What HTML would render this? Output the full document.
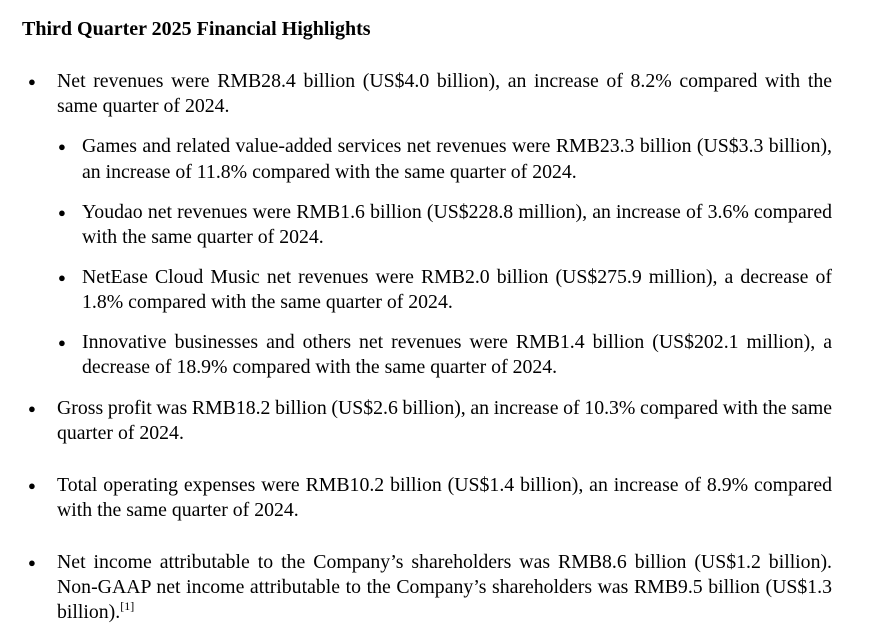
<!DOCTYPE html>
<html><head><meta charset="utf-8"><style>
body{margin:0;width:875px;height:632px;background:#fff;position:relative;font-family:"Liberation Serif",serif;font-size:19.8px;color:#000;overflow:hidden}
.l{position:absolute;line-height:25px;white-space:nowrap}
.j{text-align:justify;text-align-last:justify;white-space:normal;word-spacing:-1px}
.b{position:absolute;font-size:13px;line-height:25px}
</style></head><body>
<div class="l" style="left:22px;top:17px;font-weight:bold;font-size:20px">Third Quarter 2025 Financial Highlights</div>

<div class="b" style="left:28px;top:69px">●</div>
<div class="l j" style="left:57px;top:69px;width:775px">Net revenues were RMB28.4 billion (US$4.0 billion), an increase of 8.2% compared with the</div>
<div class="l" style="left:57px;top:94px">same quarter of 2024.</div>

<div class="b" style="left:58px;top:134px">●</div>
<div class="l j" style="left:82px;top:134px;width:750px">Games and related value-added services net revenues were RMB23.3 billion (US$3.3 billion),</div>
<div class="l" style="left:82px;top:160px">an increase of 11.8% compared with the same quarter of 2024.</div>

<div class="b" style="left:58px;top:200px">●</div>
<div class="l j" style="left:82px;top:200px;width:750px">Youdao net revenues were RMB1.6 billion (US$228.8 million), an increase of 3.6% compared</div>
<div class="l" style="left:82px;top:225px">with the same quarter of 2024.</div>

<div class="b" style="left:58px;top:265px">●</div>
<div class="l j" style="left:82px;top:265px;width:750px">NetEase Cloud Music net revenues were RMB2.0 billion (US$275.9 million), a decrease of</div>
<div class="l" style="left:82px;top:290px">1.8% compared with the same quarter of 2024.</div>

<div class="b" style="left:58px;top:330px">●</div>
<div class="l j" style="left:82px;top:330px;width:750px">Innovative businesses and others net revenues were RMB1.4 billion (US$202.1 million), a</div>
<div class="l" style="left:82px;top:355px">decrease of 18.9% compared with the same quarter of 2024.</div>

<div class="b" style="left:28px;top:396px">●</div>
<div class="l j" style="left:57px;top:396px;width:775px">Gross profit was RMB18.2 billion (US$2.6 billion), an increase of 10.3% compared with the same</div>
<div class="l" style="left:57px;top:421px">quarter of 2024.</div>

<div class="b" style="left:28px;top:473px">●</div>
<div class="l j" style="left:57px;top:473px;width:775px">Total operating expenses were RMB10.2 billion (US$1.4 billion), an increase of 8.9% compared</div>
<div class="l" style="left:57px;top:498px">with the same quarter of 2024.</div>

<div class="b" style="left:28px;top:550px">●</div>
<div class="l j" style="left:57px;top:550px;width:775px">Net income attributable to the Company’s shareholders was RMB8.6 billion (US$1.2 billion).</div>
<div class="l j" style="left:57px;top:575px;width:775px">Non-GAAP net income attributable to the Company’s shareholders was RMB9.5 billion (US$1.3</div>
<div class="l" style="left:57px;top:600px">billion).<sup style="font-size:12px;vertical-align:8px;line-height:0">[1]</sup></div>
</body></html>
